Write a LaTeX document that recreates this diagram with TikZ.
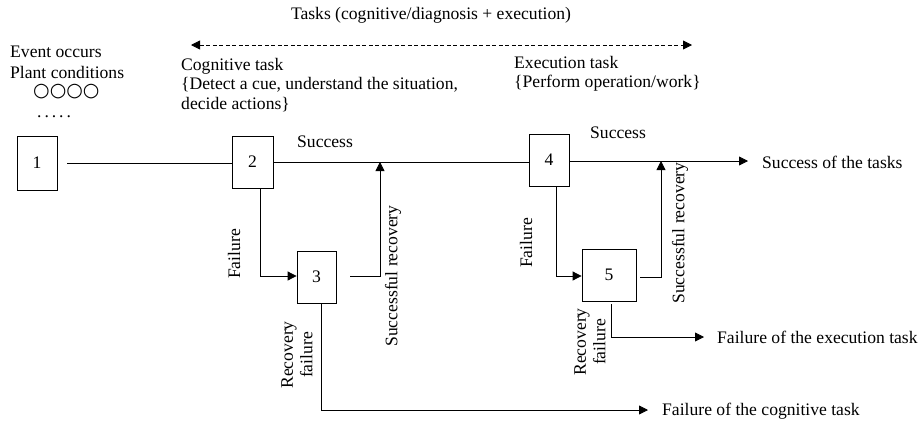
\documentclass[tikz,border=0pt]{standalone}
\usepackage{fontspec}
\setmainfont{Liberation Serif}
\newfontfamily\symfont{DejaVu Sans}
\usetikzlibrary{arrows.meta}
\begin{document}
\begin{tikzpicture}[x=1pt,y=-1pt,
  every node/.style={font=\fontsize{17.6}{19.5}\selectfont, inner sep=0pt},
  box/.style={draw, line width=0.8pt, minimum width=40pt, minimum height=52pt},
  conn/.style={line width=0.8pt},
  arr/.style={line width=0.8pt, -{Triangle[length=9pt,width=9pt]}},
  lbl/.style={anchor=west},
  rot/.style={rotate=90, align=center}]
\useasboundingbox (0,0) rectangle (921,421);
% boxes
\node[box, minimum width=40pt, minimum height=54pt] (b1) at (37,163) {1};
\node[box, minimum width=41pt] (b2) at (252.5,162) {2};
\node[box, minimum width=39pt] (b3) at (316.5,277) {3};
\node[box, minimum width=40pt] (b4) at (549,160) {4};
\node[box, minimum width=54pt] (b5) at (609,275) {5};
% coordinates
\coordinate (r3) at (380,276);
\coordinate (m3) at (380,162);
\coordinate (d2) at (260,276);
\coordinate (d3) at (321,410);
\coordinate (e3) at (648,410);
\coordinate (d4) at (556,276);
\coordinate (r5) at (661,277);
\coordinate (m5) at (661,161);
\coordinate (d5) at (611,337);
\coordinate (e5) at (704,337);
\coordinate (eS) at (748,161);
\coordinate (tl) at (191,45);
\coordinate (tr) at (692,45);
% main line
\draw[conn, shorten <=10pt] (b1.east |- 0,163) -- (b2.west |- 0,163);
\draw[conn] (b2.east |- 0,162) -- (b4.west |- 0,162);
\draw[arr] (b4.east |- 0,161) -- (eS);
% failure branch 2 -> 3
\draw[arr] (b2.south -| d2) -- (d2) -- (b3.west |- d2);
\draw[arr, shorten <=14pt] (b3.east |- r3) -- (r3) -- (m3);
\draw[arr] (b3.south -| d3) -- (d3) -- (e3);
% failure branch 4 -> 5
\draw[arr] (b4.south -| d4) -- (d4) -- (b5.west |- d4);
\draw[arr, shorten <=4pt] (b5.east |- r5) -- (r5) -- (m5);
\draw[arr, shorten <=3pt] (b5.south -| d5) -- (d5) -- (e5);
% dashed task arrow
\draw[line width=0.8pt, dash pattern=on 4pt off 2.5pt, {Triangle[length=9pt,width=9pt]}-{Triangle[length=9pt,width=9pt]}] (tl) -- (tr);
% texts
\node (ttasks) at (431,15) {Tasks (cognitive/diagnosis + execution)};
\node[lbl] (tev) at (10,52) {Event occurs};
\node[lbl] (tpl) at (10,72) {Plant conditions};
\node[lbl, font=\symfont\fontsize{19}{19}\selectfont] (tcirc) at (33,92) {○○○○};
\node[anchor=base west] (tdots) at (37,117) {.\,.\,.\,.\,.};
\node[lbl, align=left, anchor=north west] (tcog) at (181,58) {Cognitive task\\\{Detect a cue, understand the situation,\\decide actions\}};
\node[lbl, align=left, anchor=north west] (texe) at (514,56) {Execution task\\\{Perform operation/work\}};
\node[lbl] (ts1) at (297,142) {Success};
\node[lbl] (ts2) at (590,133) {Success};
\node[lbl] (tsucc) at (762,162) {Success of the tasks};
\node[lbl] (tfc) at (662,411) {Failure of the cognitive task};
\node[lbl] (tfe) at (717,337) {Failure of the execution task};
\node[rot] (tf1) at (234,254) {Failure};
\node[rot] (tsr1) at (393,276) {Successful recovery};
\node[rot] (trf1) at (297,355) {Recovery\\failure};
\node[rot] (tf2) at (526,243) {Failure};
\node[rot] (tsr2) at (680,233) {Successful recovery};
\node[rot] (trf2) at (590,342) {Recovery\\failure};
\end{tikzpicture}
\end{document}
